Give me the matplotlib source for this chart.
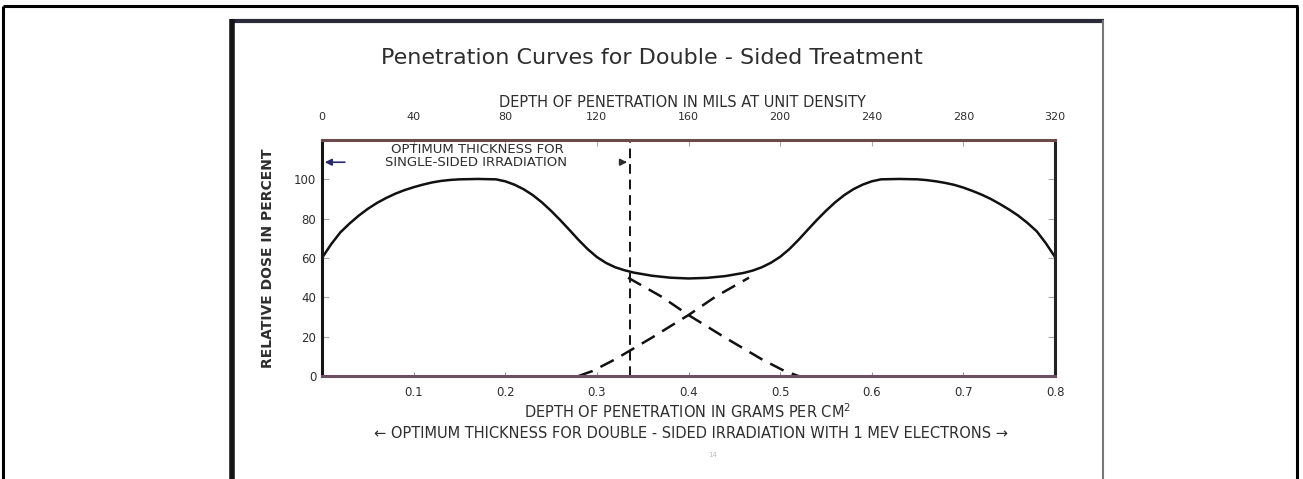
import matplotlib
matplotlib.use("Agg")
import matplotlib.pyplot as plt
from matplotlib.lines import Line2D

# total dose, both sides (depth in g/cm^2, dose in %)
total_x = [0.0, 0.01, 0.02, 0.03, 0.04, 0.05, 0.06, 0.07, 0.08, 0.09,
           0.10, 0.11, 0.12, 0.13, 0.14, 0.15, 0.17, 0.19, 0.20, 0.21,
           0.22, 0.23, 0.24, 0.25, 0.26, 0.27, 0.28, 0.29, 0.30, 0.31,
           0.32, 0.33, 0.34, 0.36, 0.38, 0.40, 0.42, 0.44, 0.46, 0.47,
           0.48, 0.49, 0.50, 0.51, 0.52, 0.53, 0.54, 0.55, 0.56, 0.57,
           0.58, 0.59, 0.60, 0.61, 0.63, 0.65, 0.66, 0.67, 0.68, 0.69,
           0.70, 0.71, 0.72, 0.73, 0.74, 0.75, 0.76, 0.77, 0.78, 0.79, 0.80]
total_y = [60, 67, 73, 77.5, 81.5, 85, 88, 90.5, 92.7, 94.5,
           96, 97.3, 98.4, 99.2, 99.7, 100, 100.2, 100, 99, 97.3,
           95, 92, 88.3, 84, 79.3, 74.3, 69.2, 64.5, 60.5, 57.5,
           55.3, 53.8, 52.6, 51, 50, 49.6, 49.9, 50.8, 52.4, 53.6,
           55.3, 57.6, 60.6, 64.5, 69.2, 74.3, 79.3, 84, 88.3, 92,
           95, 97.3, 99, 100, 100.2, 100, 99.6, 99, 98.2, 97.2,
           95.8, 94.1, 92.2, 90, 87.4, 84.6, 81.5, 77.8, 73.6, 67.5, 60.5]

# single side tails (dashed)
front_x = [0.334, 0.37, 0.40, 0.44, 0.48, 0.505, 0.52]
front_y = [50, 40.5, 31, 19.5, 8.5, 2.5, 0]
back_x = [0.28, 0.295, 0.32, 0.36, 0.40, 0.43, 0.466]
back_y = [0, 2.5, 8.5, 19.5, 31, 40.5, 50]

optimum_single = 0.336

bottom_ticks = [0.1, 0.2, 0.3, 0.4, 0.5, 0.6, 0.7, 0.8]
bottom_labels = ["0.1", "0.2", "0.3", "0.4", "0.5", "0.6", "0.7", "0.8"]
top_ticks = [0, 40, 80, 120, 160, 200, 240, 280, 320]
y_ticks = [0, 20, 40, 60, 80, 100]

txt = '#2e2e2e'

fig = plt.figure(figsize=(13.03, 4.79), dpi=100)
ax = fig.add_axes([0.2471, 0.2150, 0.5626, 0.4927])

ax.plot(total_x, total_y, color='#111111', lw=1.8)
ax.plot(front_x, front_y, color='#111111', lw=1.8, dashes=(6, 3.5))
ax.plot(back_x, back_y, color='#111111', lw=1.8, dashes=(6, 3.5))
ax.axvline(optimum_single, color='#111111', lw=1.4, dashes=(5, 3))

ax.set_xlim(0, 0.8)
ax.set_ylim(0, 120)
ax.set_xticks(bottom_ticks)
ax.set_xticklabels(bottom_labels)
ax.set_yticks(y_ticks)
ax.tick_params(axis='x', direction='in', length=3, pad=7, labelsize=8.5,
               labelcolor=txt, color='#999999')
ax.tick_params(axis='y', direction='in', length=5, pad=4, labelsize=8.5,
               labelcolor=txt, color='#aaaaaa', right=True)

for side, c in [('left', '#151515'), ('right', '#222222'),
                ('top', '#6a4a4a'), ('bottom', '#6a5060')]:
    ax.spines[side].set_color(c)
    ax.spines[side].set_linewidth(2.2)

top = ax.secondary_xaxis('top', functions=(lambda v: v * 400, lambda v: v / 400))
top.set_xticks(top_ticks)
top.tick_params(direction='in', length=4, pad=13, labelsize=8,
                labelcolor=txt, color='#aaaaaa')
top.spines['top'].set_visible(False)

# single-sided optimum note
ax.text(0.17, 115.3, "OPTIMUM THICKNESS FOR", ha='center', va='center',
        fontsize=9.5, color=txt)
ax.text(0.168, 108.7, "SINGLE-SIDED IRRADIATION", ha='center', va='center',
        fontsize=9.5, color=txt)
ax.annotate('', xy=(0.0, 108.7), xytext=(0.028, 108.7),
            arrowprops=dict(arrowstyle='-|>', color='#2a2a6a', lw=1.2))
ax.annotate('', xy=(optimum_single, 108.7), xytext=(optimum_single - 0.01, 108.7),
            arrowprops=dict(arrowstyle='-|>', color=txt, lw=1.2))

fig.text(0.5, 0.879, "Penetration Curves for Double - Sided Treatment",
         ha='center', va='center', fontsize=16, color=txt)
fig.text(0.524, 0.787, "DEPTH OF PENETRATION IN MILS AT UNIT DENSITY",
         ha='center', va='center', fontsize=10.5, color=txt)
fig.text(0.528, 0.1399, "DEPTH OF PENETRATION IN GRAMS PER CM$^2$",
         ha='center', va='center', fontsize=10.5, color=txt)
fig.text(0.530, 0.096,
         "\u2190 OPTIMUM THICKNESS FOR DOUBLE - SIDED IRRADIATION WITH 1 MEV ELECTRONS \u2192",
         ha='center', va='center', fontsize=10.5, color=txt)
fig.text(0.2057, 0.461, "RELATIVE DOSE IN PERCENT", rotation=90,
         ha='center', va='center', fontsize=10, fontweight='bold', color=txt)
fig.text(0.547, 0.05, "14", ha='center', va='center', fontsize=5, color='#bbbbbb')

# scanned page border and outer frame
W, H = 1303.0, 479.0
def fl(x0, y0, x1, y1, lw, c):
    fig.add_artist(Line2D([x0 / W, x1 / W], [1 - y0 / H, 1 - y1 / H],
                          transform=fig.transFigure, lw=lw, color=c,
                          solid_capstyle='butt'))

fl(3, 6, 1298, 6, 2.2, 'black')
fl(3, 6, 3, 479, 2.2, 'black')
fl(1297, 6, 1297, 479, 2.2, 'black')
fl(231, 21, 1104, 21, 3.0, '#2a2a3a')
fl(232, 19, 232, 479, 4.0, '#141414')
fl(1103, 20, 1103, 479, 1.5, '#777777')

fig.savefig("out.png", dpi=100)
